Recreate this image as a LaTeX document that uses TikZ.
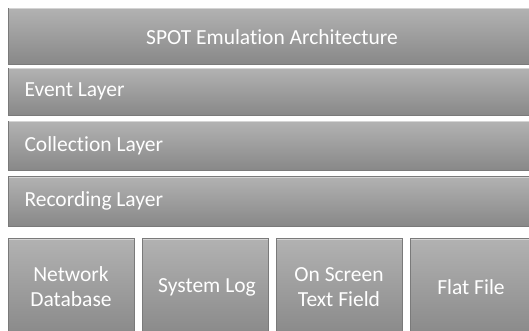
\documentclass[tikz,border=0pt]{standalone}
\usepackage{fontspec}
\setmainfont{Carlito}[Ligatures=NoCommon]
\definecolor{boxtop}{HTML}{B2B2B2}
\definecolor{boxbot}{HTML}{888888}
\definecolor{boxedge}{HTML}{7A7A7A}
\definecolor{boxlight}{HTML}{D4D4D4}
\tikzset{
  layerbox/.style={anchor=north west, inner sep=0pt, minimum width=528pt,
    top color=boxtop, bottom color=boxbot, draw=boxedge, line width=0.6pt},
  boxtext/.style={text=white, font=\fontsize{21.5}{25}\selectfont},
  storebox/.style={anchor=north west, inner sep=0pt, minimum width=126pt,
    minimum height=100pt, top color=boxtop, bottom color=boxbot,
    draw=boxedge, line width=0.6pt},
  storetext/.style={boxtext, align=center}
}
\begin{document}
\begin{tikzpicture}[x=1pt,y=-1pt]
\useasboundingbox (0,0) rectangle (529,331);
\clip (0,0) rectangle (529,331);
\fill[white] (0,0) rectangle (529,331);
\node[layerbox, minimum height=56pt] (arch) at (8,8) {};
\node[boxtext] (archtext) at (272,37) {SPOT Emulation Architecture};
\node[layerbox, minimum height=47pt] (event) at (8,68) {};
\node[layerbox, minimum height=49pt] (collect) at (8,121) {};
\node[layerbox, minimum height=50pt] (record) at (8,176) {};
\foreach \n/\t/\y in {event/Event Layer/91, collect/Collection Layer/146, record/Recording Layer/201}
   \node[boxtext, anchor=west] (\n text) at (21,\y) {\t};
\foreach \n/\x in {netdb/8, syslog/142, screen/276, flat/410}
   \node[storebox] (\n) at (\x,238) {};
\node[storetext] (netdbtext) at (71,287) {Network\\Database};
\node[storetext] (syslogtext) at (207,287) {System Log};
\node[storetext] (screentext) at (339,287) {On Screen\\Text Field};
\node[storetext] (flattext) at (471,287) {Flat File};
% light top edge of every box
\foreach \n in {arch,event,collect,record,netdb,syslog,screen,flat}
   \draw[boxlight, line width=1pt] ([xshift=1pt,yshift=-1pt]\n.north west) -- ([xshift=-1pt,yshift=-1pt]\n.north east);
\end{tikzpicture}
\end{document}
